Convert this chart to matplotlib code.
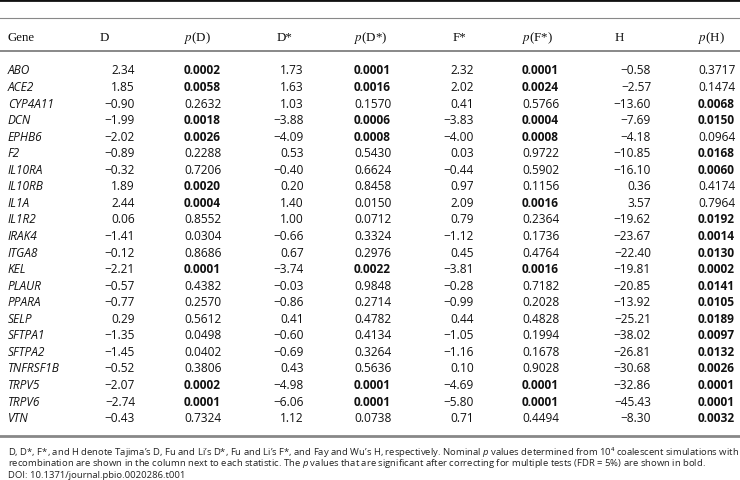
import matplotlib
matplotlib.use("Agg")
import matplotlib.pyplot as plt
from matplotlib.lines import Line2D
from matplotlib import font_manager

# table data (Table 1)
genes = ["ABO", "ACE2", "CYP4A11", "DCN", "EPHB6", "F2", "IL10RA", "IL10RB", "IL1A",
         "IL1R2", "IRAK4", "ITGA8", "KEL", "PLAUR", "PPARA", "SELP", "SFTPA1", "SFTPA2",
         "TNFRSF1B", "TRPV5", "TRPV6", "VTN"]
D = [2.34, 1.85, -0.90, -1.99, -2.02, -0.89, -0.32, 1.89, 2.44, 0.06, -1.41, -0.12,
     -2.21, -0.57, -0.77, 0.29, -1.35, -1.45, -0.52, -2.07, -2.74, -0.43]
pD = [0.0002, 0.0058, 0.2632, 0.0018, 0.0026, 0.2288, 0.7206, 0.0020, 0.0004, 0.8552,
      0.0304, 0.8686, 0.0001, 0.4382, 0.2570, 0.5612, 0.0498, 0.0402, 0.3806, 0.0002,
      0.0001, 0.7324]
Dstar = [1.73, 1.63, 1.03, -3.88, -4.09, 0.53, -0.40, 0.20, 1.40, 1.00, -0.66, 0.67,
         -3.74, -0.03, -0.86, 0.41, -0.60, -0.69, 0.43, -4.98, -6.06, 1.12]
pDstar = [0.0001, 0.0016, 0.1570, 0.0006, 0.0008, 0.5430, 0.6624, 0.8458, 0.0150, 0.0712,
          0.3324, 0.2976, 0.0022, 0.9848, 0.2714, 0.4782, 0.4134, 0.3264, 0.5636, 0.0001,
          0.0001, 0.0738]
Fstar = [2.32, 2.02, 0.41, -3.83, -4.00, 0.03, -0.44, 0.97, 2.09, 0.79, -1.12, 0.45,
         -3.81, -0.28, -0.99, 0.44, -1.05, -1.16, 0.10, -4.69, -5.80, 0.71]
pFstar = [0.0001, 0.0024, 0.5766, 0.0004, 0.0008, 0.9722, 0.5902, 0.1156, 0.0016, 0.2364,
          0.1736, 0.4764, 0.0016, 0.7182, 0.2028, 0.4828, 0.1994, 0.1678, 0.9028, 0.0001,
          0.0001, 0.4494]
H = [-0.58, -2.57, -13.60, -7.69, -4.18, -10.85, -16.10, 0.36, 3.57, -19.62, -23.67,
     -22.40, -19.81, -20.85, -13.92, -25.21, -38.02, -26.81, -30.68, -32.86, -45.43, -8.30]
pH = [0.3717, 0.1474, 0.0068, 0.0150, 0.0964, 0.0168, 0.0060, 0.4174, 0.7964, 0.0192,
      0.0014, 0.0130, 0.0002, 0.0141, 0.0105, 0.0189, 0.0097, 0.0132, 0.0026, 0.0001,
      0.0001, 0.0032]
# significant after FDR correction (shown bold)
fdr_cutoff = {"D": 0.01, "D*": 0.01, "F*": 0.01, "H": 0.02}

headers = ["Gene", "D", "$p$(D)", "D*", "$p$(D*)", "F*", "$p$(F*)", "H", "$p$(H)"]
footnote = [
    "D, D*, F*, and H denote Tajima\u2019s D, Fu and Li\u2019s D*, Fu and Li\u2019s F*, and Fay and Wu\u2019s H, "
    "respectively. Nominal $p$ values determined from 10\u2074 coalescent simulations with",
    "recombination are shown in the column next to each statistic. The $p$ values that are "
    "significant after correcting for multiple tests (FDR = 5%) are shown in bold.",
    "DOI: 10.1371/journal.pbio.0020286.t001",
]

W, Hpx = 740, 481
fig = plt.figure(figsize=(W / 100, Hpx / 100), dpi=100)

def fx(x):
    return x / W

def fy(y):
    return 1 - y / Hpx

def hline(y, lw, color):
    fig.add_artist(Line2D([0, 1], [fy(y), fy(y)], lw=lw, color=color,
                          transform=fig.transFigure))

def fmt_val(v):
    return f"{v:.2f}".replace("-", "\u2212")

avail = {f.name for f in font_manager.fontManager.ttflist}
body_font = "Open Sans" if "Open Sans" in avail else "DejaVu Sans"
serif_font = "Liberation Serif"
note_font = "Liberation Sans Narrow" if "Liberation Sans Narrow" in avail else body_font

plt.rcParams["mathtext.fontset"] = "custom"
plt.rcParams["mathtext.rm"] = note_font
plt.rcParams["mathtext.it"] = note_font + ":italic"

# rules
hline(1, 2.0, "#111111")
hline(19, 0.8, "#888888")
hline(52, 1.4, "#888888")
hline(437, 2.0, "#888888")

# header row
head_x = [8, 100, 184, 277, 354, 453, 522, 615, 698]
for x, h in zip(head_x, headers):
    fig.text(fx(x), fy(38), h, family=serif_font, fontsize=9.3, va="center",
             ha="left", math_fontfamily="stix", color="#111111")

# body rows
y0, dy = 71, 16.55
stat_cols = [(D, pD, "D", 135, 184), (Dstar, pDstar, "D*", 304, 354),
             (Fstar, pFstar, "F*", 474, 522), (H, pH, "H", 651, 698)]
for i, g in enumerate(genes):
    y = fy(y0 + i * dy)
    fig.text(fx(8), y, g, family=body_font, style="italic", fontsize=8.6,
             va="center", color="#111111")
    for vals, pvals, key, xr, xp in stat_cols:
        fig.text(fx(xr), y, fmt_val(vals[i]), family=body_font, fontsize=8.6,
                 va="center", ha="right", color="#111111")
        bold = pvals[i] < fdr_cutoff[key]
        fig.text(fx(xp), y, f"{pvals[i]:.4f}", family=body_font, fontsize=8.6,
                 va="center", ha="left", weight="bold" if bold else "normal",
                 color="#111111")

# footnote, first line fitted to the full width
note_y = [452, 464, 476]
renderer = fig.canvas.get_renderer()
probe = fig.text(0, 0, footnote[0], family=[note_font, "DejaVu Sans"], fontsize=7.0)
width = probe.get_window_extent(renderer).width
probe.remove()
note_size = 7.0 * (729 / width)
for y, line in zip(note_y, footnote):
    fig.text(fx(8), fy(y), line, family=[note_font, "DejaVu Sans"], fontsize=note_size,
             va="center", color="#222222")

fig.savefig("out.png", dpi=100, facecolor="white")
